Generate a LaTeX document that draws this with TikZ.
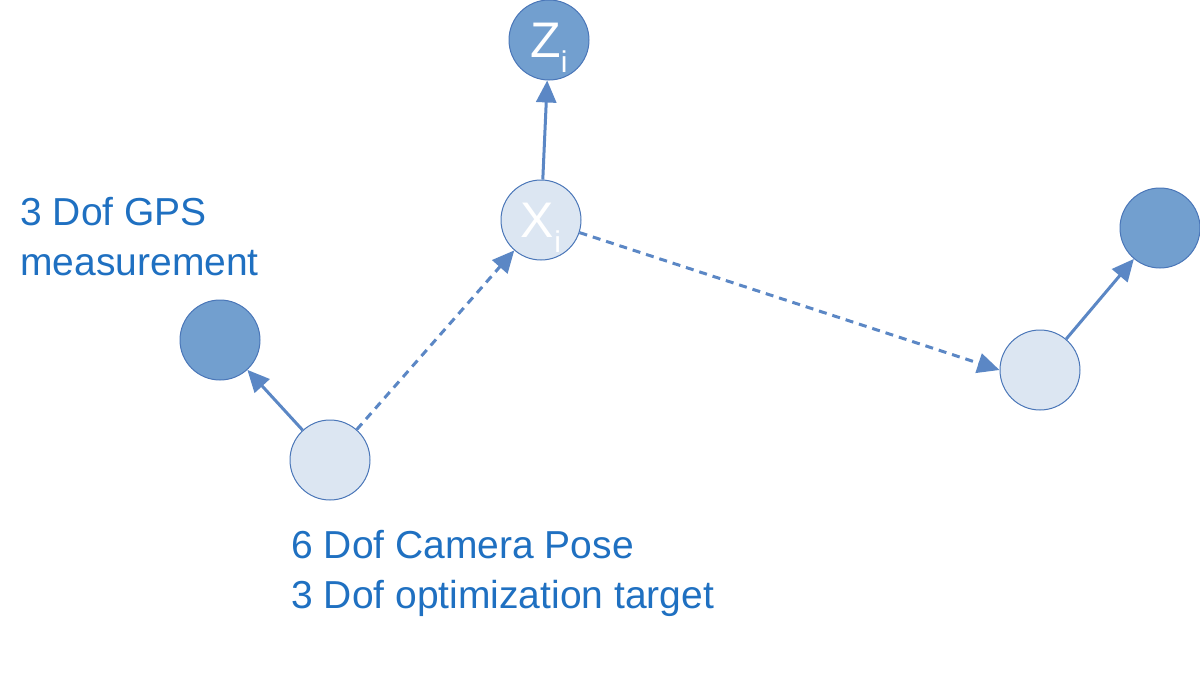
\documentclass[tikz,border=0pt]{standalone}
\usepackage{fontspec}
\setmainfont{Liberation Sans}
\usepackage{tikz}
\usetikzlibrary{arrows.meta}
\definecolor{darkcol}{HTML}{729FCF}
\definecolor{lightcol}{HTML}{DCE6F2}
\definecolor{rimcol}{HTML}{4A76B8}
\definecolor{linkcol}{HTML}{5B87C5}
\definecolor{textcol}{HTML}{1F70C1}
\newcommand{\lowsub}[1]{\smash{\raisebox{-0.3em}{\fontsize{15}{15}\selectfont #1}}}

\begin{document}
\begin{tikzpicture}[x=0.5pt, y=-0.5pt,
  meas/.style={circle, draw=rimcol, line width=0.5pt, fill=darkcol, minimum size=40pt,
    inner sep=0pt, text=white, font=\fontsize{25}{25}\selectfont},
  pose/.style={circle, draw=rimcol, line width=0.5pt, fill=lightcol, minimum size=40pt,
    inner sep=0pt, text=white, font=\fontsize{25}{25}\selectfont},
  conn/.style={-{Triangle[length=11pt, width=10pt]}, draw=linkcol, line width=1.5pt},
  odom/.style={conn, dash pattern=on 4pt off 3pt},
  note/.style={text=textcol, font=\fontsize{19.5}{25}\selectfont, align=left, anchor=north west, inner sep=0pt},
]
\useasboundingbox (0,0) rectangle (1200,685);

% camera poses
\node[pose] (p1) at (330,460) {};
\node[pose] (p2) at (541,220) {X\lowsub{i}};
\node[pose] (p3) at (1040,370) {};

% gps measurements
\node[meas] (g1) at (220,340) {};
\node[meas] (g2) at (549,40) {Z\lowsub{i}};
\node[meas] (g3) at (1160,228) {};

% links
\draw[conn] (p1) -- (g1);
\draw[conn] (p2) -- (g2);
\draw[conn] (p3) -- (g3);
\draw[odom] (p1) -- (p2);
\draw[odom] (p2) -- (p3.west);

% notes
\node[note] (gpsnote) at (20,197) {3 Dof GPS\\measurement};
\node[note] (posenote) at (291,530) {6 Dof Camera Pose\\3 Dof optimization target};

\end{tikzpicture}
\end{document}
